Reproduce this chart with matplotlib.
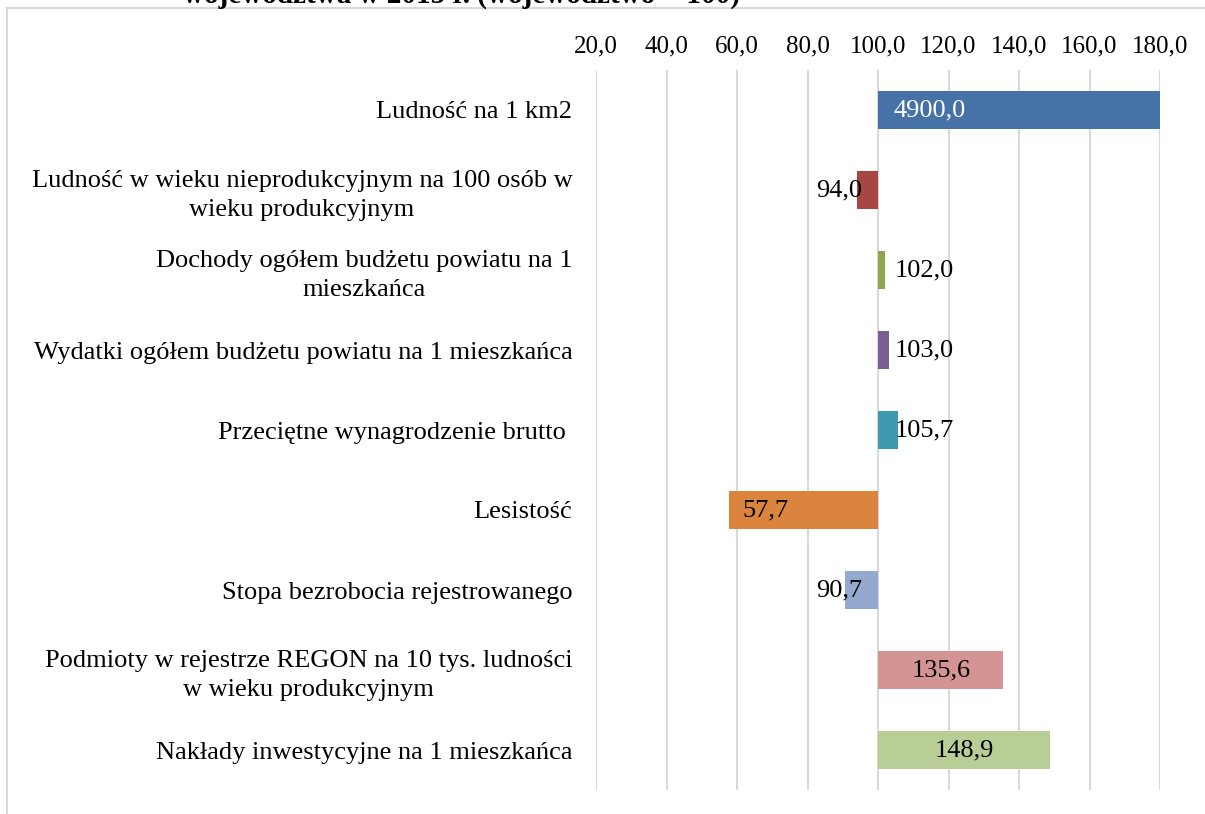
import matplotlib
matplotlib.use("Agg")
import matplotlib.pyplot as plt
from matplotlib.patches import Rectangle

plt.rcParams['font.family'] = ['Liberation Serif', 'DejaVu Serif']

categories = [
    "Ludność na 1 km2",
    "Ludność w wieku nieprodukcyjnym na 100 osób w\nwieku produkcyjnym",
    "Dochody ogółem budżetu powiatu na 1\nmieszkańca",
    "Wydatki ogółem budżetu powiatu na 1 mieszkańca",
    "Przeciętne wynagrodzenie brutto ",
    "Lesistość",
    "Stopa bezrobocia rejestrowanego",
    "Podmioty w rejestrze REGON na 10 tys. ludności\nw wieku produkcyjnym",
    "Nakłady inwestycyjne na 1 mieszkańca",
]
values = [4900.0, 94.0, 102.0, 103.0, 105.7, 57.7, 90.7, 135.6, 148.9]
colors = ["#4672A8", "#A84644", "#8CA74F", "#7A5F96", "#3E9AAF",
          "#DB843D", "#94A9D0", "#D49493", "#B9CE96"]
label_x = [104.5, 95.6, 104.8, 104.8, 104.8, 61.4, 95.6, None, None]
label_ha = ["left", "right", "left", "left", "left", "left", "right", "center", "center"]
label_colors = ["white"] + ["black"] * 8
xticks = [20, 40, 60, 80, 100, 120, 140, 160, 180]
base = 100.0
title = "województwa w 2015 r. (województwo = 100)"

fig = plt.figure(figsize=(12.05, 8.14), dpi=100)
fig.patches.append(Rectangle((7 / 1205, -0.1), 1.2, 1.1 - 8 / 814,
                             transform=fig.transFigure, fill=False,
                             edgecolor="#D9D9D9", linewidth=1.5))
fig.text(0.3826, 1 - 3 / 814, title, ha="center", va="baseline",
         fontsize=21, fontweight="bold")

ax = fig.add_axes([596 / 1205, 1 - 790 / 814, (1160 - 596) / 1205, 720 / 814])
ypos = list(range(len(categories)))
ax.barh(ypos, [v - base for v in values], left=base, height=0.48,
        color=colors, zorder=3)
ax.set_xlim(20, 180)
ax.set_ylim(len(categories) - 0.5, -0.5)
ax.set_xticks(xticks)
ax.set_xticklabels([f"{t:.1f}".replace(".", ",") for t in xticks])
ax.xaxis.tick_top()
ax.tick_params(axis="x", length=0, pad=9, labelsize=18)
ax.set_yticks(ypos)
ax.set_yticklabels(categories, multialignment="center", linespacing=1.4)
ax.tick_params(axis="y", length=0, pad=17, labelsize=19)
ax.grid(axis="x", color="#D9D9D9", linewidth=1.5, zorder=0)
for s in ax.spines.values():
    s.set_visible(False)

for i, v in enumerate(values):
    x = label_x[i] if label_x[i] is not None else (base + v) / 2
    ax.text(x, i, f"{v:.1f}".replace(".", ","), ha=label_ha[i], va="center",
            fontsize=19, color=label_colors[i], zorder=4)

fig.savefig("out.png", dpi=100)
